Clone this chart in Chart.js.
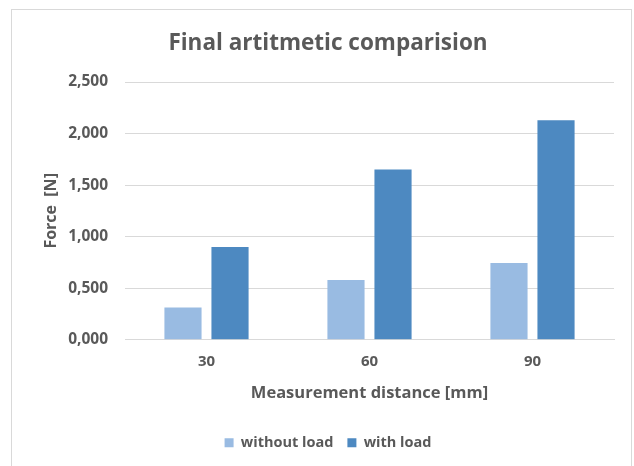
<!DOCTYPE html>
<html>
<head>
<meta charset="utf-8">
<script src="https://cdn.jsdelivr.net/npm/chart.js@4"></script>
<style>
  body { margin: 0; background: #fff; }
  #frame { position: absolute; left: 11px; top: 9px; width: 621px; height: 470px; border: 1px solid #d9d9d9; box-sizing: border-box; }
  #wrap { position: absolute; left: 0; top: 0; width: 634px; height: 466px; }
</style>
</head>
<body>
<div id="frame"></div>
<div id="wrap"><canvas id="barChart" width="634" height="466"></canvas></div>
<script>
// distances on the x axis
const distances = ['30', '60', '90'];
// force values [N]
const withoutLoad = [0.312, 0.578, 0.744];
const withLoad = [0.90, 1.65, 2.13];

const grey = '#595959';
const font = 'Open Sans, sans-serif';

document.addEventListener('DOMContentLoaded', function() {
    const ctx = document.getElementById('barChart').getContext('2d');

    new Chart(ctx, {
        type: 'bar',
        data: {
            labels: distances,
            datasets: [{
                label: 'without load',
                data: withoutLoad,
                backgroundColor: '#99bbe2',
                barPercentage: 0.79,
                categoryPercentage: 0.577
            }, {
                label: 'with load',
                data: withLoad,
                backgroundColor: '#4d89c1',
                barPercentage: 0.79,
                categoryPercentage: 0.577
            }]
        },
        options: {
            responsive: false,
            animation: false,
            layout: { padding: { left: 42, right: 20, top: 12, bottom: 6 } },
            scales: {
                x: {
                    grid: { display: false, drawTicks: false },
                    border: { color: '#d9d9d9' },
                    ticks: { color: grey, font: { family: font, size: 15, weight: 'bold' }, padding: 13 },
                    title: { display: true, text: 'Measurement distance [mm]', color: grey,
                             font: { family: font, size: 16.5, weight: 'bold' }, padding: { top: 0, bottom: 18 } }
                },
                y: {
                    min: 0,
                    max: 2.5,
                    afterFit: function(scale) { scale.width = 83; },
                    ticks: {
                        stepSize: 0.5,
                        color: grey,
                        padding: 17,
                        font: { family: font, size: 15.5, weight: 'bold' },
                        callback: function(v) { return v.toFixed(3).replace('.', ','); }
                    },
                    grid: { color: '#d9d9d9', drawTicks: false },
                    border: { display: false },
                    title: { display: true, text: 'Force  [N]', color: grey,
                             font: { family: font, size: 16, weight: 'bold' }, padding: { top: 0, bottom: 0 } }
                }
            },
            plugins: {
                title: {
                    display: true,
                    text: 'Final artitmetic comparision',
                    color: grey,
                    font: { family: font, size: 22.5, weight: 'bold' },
                    padding: { top: 18, bottom: 25 }
                },
                legend: {
                    position: 'bottom',
                    labels: { color: grey, boxWidth: 9, boxHeight: 9, padding: 14,
                              font: { family: font, size: 14.5, weight: 'bold' } }
                },
                tooltip: { enabled: false }
            }
        }
    });
});
</script>
</body>
</html>
